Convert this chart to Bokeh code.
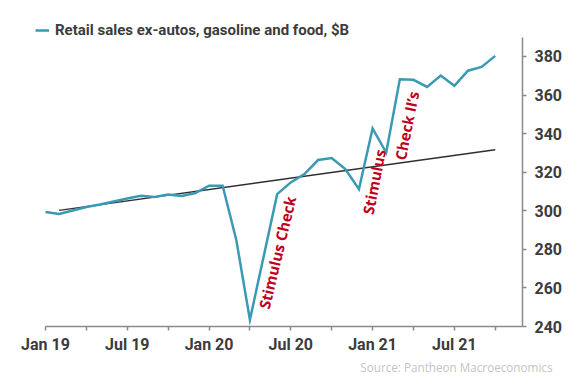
import numpy as np
from bokeh.plotting import figure
from bokeh.models import Range1d, LinearAxis, FixedTicker, Legend, LegendItem, Title
from bokeh.embed import file_html
from bokeh.resources import INLINE
from bokeh.core.properties import value

# ---- data -------------------------------------------------------------
month_names = ["Jan", "Feb", "Mar", "Apr", "May", "Jun",
               "Jul", "Aug", "Sep", "Oct", "Nov", "Dec"]
axis_months = [f"{m} {y}" for y in (19, 20, 21) for m in month_names]  # Jan 19 .. Dec 21

sales_months = axis_months[:34]  # Jan 19 .. Oct 21
sales = [299.3, 298.3, 300.1, 301.9, 303.2, 304.8, 306.4, 307.8, 307.2, 308.4,
         307.7, 309.2, 313.0, 313.0, 284.9, 243.5, 276.0, 308.6, 314.7, 319.0,
         326.3, 327.3, 321.6, 311.2, 342.7, 330.2, 368.2, 367.9, 364.2, 370.1,
         364.8, 372.6, 374.6, 380.3]

trend_months = ["Feb 19", "Oct 21"]
trend_values = [300.2, 331.6]

x_tick_months = ["Jan 19", "Apr 19", "Jul 19", "Oct 19", "Jan 20", "Apr 20",
                 "Jul 20", "Oct 20", "Jan 21", "Apr 21", "Jul 21", "Oct 21"]
x_tick_labels = ["Jan 19", "", "Jul 19", "", "Jan 20", "",
                 "Jul 20", "", "Jan 21", "", "Jul 21", ""]
y_ticks = [240, 260, 280, 300, 320, 340, 360, 380]

notes = ["Stimulus Check", "Stimulus", "Check II\u2019s"]
note_month = [17.0, 24.1, 26.5]
note_value = [278.4, 315.0, 344.1]
note_angle_deg = [76.5, 79.0, 78.7]

series_name = "Retail sales ex-autos, gasoline and food, $B"
source_text = "Source: Pantheon Macroeconomics"

# ---- helpers ----------------------------------------------------------
idx = {m: i for i, m in enumerate(axis_months)}
sx = [idx[m] for m in sales_months]
tx = [idx[m] for m in trend_months]
xt = [idx[m] for m in x_tick_months]

FONT = "Roboto"
LABEL_COLOR = "#3c3c3c"
AXIS_COLOR = "#8a8a8a"

p = figure(width=568, height=377, output_backend="svg", toolbar_location=None,
           x_range=Range1d(-3.30, 35), y_range=Range1d(240, 409.0),
           x_axis_type=None, y_axis_type=None,
           min_border_left=0, min_border_right=46,
           min_border_top=0, min_border_bottom=51)
p.outline_line_color = None
p.background_fill_color = "white"
p.border_fill_color = "white"

xaxis = LinearAxis(ticker=FixedTicker(ticks=xt),
                   major_label_overrides={t: l for t, l in zip(xt, x_tick_labels)},
                   bounds=(0, 35))
yaxis = LinearAxis(ticker=FixedTicker(ticks=y_ticks), bounds=(240, 390))
for ax in (xaxis, yaxis):
    ax.axis_line_color = AXIS_COLOR
    ax.axis_line_width = 1.5
    ax.major_tick_line_color = AXIS_COLOR
    ax.major_tick_line_width = 1.5
    ax.major_tick_in = 0
    ax.major_tick_out = 4
    ax.minor_tick_line_color = None
    ax.major_label_text_font = FONT
    ax.major_label_text_font_size = "16px"
    ax.major_label_text_font_style = "bold"
    ax.major_label_text_color = LABEL_COLOR
xaxis.major_label_standoff = 4
yaxis.major_label_standoff = 8
p.add_layout(xaxis, "below")
p.add_layout(yaxis, "right")

p.add_layout(Title(text=source_text, align="right", offset=-30, standoff=0,
                   text_font="Open Sans", text_font_size="11.7px",
                   text_font_style="normal", text_color="#c4c4c4"), "below")

p.line(tx, trend_values, line_color="#2f2f2f", line_width=1.5)
r = p.line(sx, sales, line_color="#3a99b3", line_width=2.5, line_join="miter")

p.text(x=note_month, y=note_value, text=notes,
       angle=[np.deg2rad(a) for a in note_angle_deg],
       text_align="center", text_baseline="middle",
       text_font=value("Open Sans"), text_font_size="15px",
       text_font_style="bold", text_color="#c0001c")

legend = Legend(items=[LegendItem(label=series_name, renderers=[r])],
                location=(35, 287), orientation="horizontal",
                glyph_width=14, glyph_height=16, label_height=16,
                label_standoff=6, padding=0, margin=0, spacing=0,
                label_text_font=FONT, label_text_font_size="15px",
                label_text_font_style="bold", label_text_color=LABEL_COLOR,
                border_line_color=None, background_fill_alpha=0)
p.add_layout(legend)

open("out.html", "w").write(file_html(p, INLINE))
